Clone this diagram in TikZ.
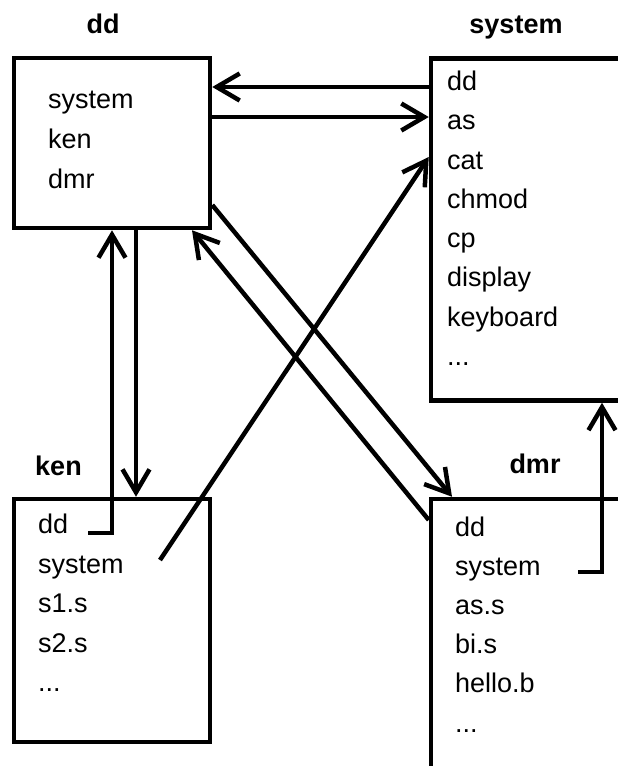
\documentclass[tikz,border=0pt]{standalone}
\usepackage{fontspec}
\setmainfont{Liberation Sans}
\usetikzlibrary{arrows.meta}
\begin{document}
\begin{tikzpicture}[x=1pt,y=-1pt,
  box/.style={draw, line width=4.5pt, rectangle, inner sep=0pt},
  item/.style={anchor=base west, inner sep=0pt, font=\fontsize{27}{30}\selectfont},
  title/.style={anchor=base, inner sep=0pt, font=\fontsize{27}{30}\selectfont\bfseries},
  conn/.style={line width=4.5pt, -{Straight Barb[length=23pt,width=27pt]}}]
\useasboundingbox (0,0) rectangle (618,766);
\clip (0,0) rectangle (618,766);
% boxes
\node[box, minimum width=196pt, minimum height=170pt] (dd) at (112,143) {};
\node[box, minimum width=229pt, minimum height=342pt] (sys) at (545.5,229.5) {};
\node[box, minimum width=196pt, minimum height=243pt] (ken) at (112,620.5) {};
\node[box, minimum width=229pt, minimum height=321pt] (dmr) at (545.5,659.5) {};
% titles
\node[title] (tdd) at (103,33) {dd};
\node[title] (tsys) at (516,33) {system};
\node[title] (tken) at (58.5,475) {ken};
\node[title] (tdmr) at (535,473) {dmr};
% dd items
\node[item] (dd1) at (48,108) {system};
\node[item] (dd2) at (48,148) {ken};
\node[item] (dd3) at (48,188) {dmr};
% system items
\node[item] (sys0) at (447,90.5) {dd};
\node[item] (sys1) at (447,129.75) {as};
\node[item] (sys2) at (447,169) {cat};
\node[item] (sys3) at (447,208.25) {chmod};
\node[item] (sys4) at (447,247.5) {cp};
\node[item] (sys5) at (447,286.75) {display};
\node[item] (sys6) at (447,326) {keyboard};
\node[item] (sys7) at (447,365.25) {...};
% ken items
\node[item] (ken0) at (38,533.5) {dd};
\node[item] (ken1) at (38,573) {system};
\node[item] (ken2) at (38,612.5) {s1.s};
\node[item] (ken3) at (38,652) {s2.s};
\node[item] (ken4) at (38,691.5) {...};
% dmr items
\node[item] (dmr0) at (455,536) {dd};
\node[item] (dmr1) at (455,575.2) {system};
\node[item] (dmr2) at (455,614.4) {as.s};
\node[item] (dmr3) at (455,653.6) {bi.s};
\node[item] (dmr4) at (455,692.8) {hello.b};
\node[item] (dmr5) at (455,732) {...};
% helper coordinates
\coordinate (r87) at (0,87);
\coordinate (r117) at (0,117);
\coordinate (r157) at (0,157);
\coordinate (r205) at (0,205);
\coordinate (r520) at (0,520);
\coordinate (c136) at (136,0);
\coordinate (c192) at (192,0);
\coordinate (c452) at (452,0);
\coordinate (c602) at (602,0);
\coordinate (kfree) at (160,560);
\coordinate (kdd) at (88,533);
\coordinate (dfree) at (578,572);
% connectors
\draw[conn] (sys.west |- r87) -- (dd.east |- r87);
\draw[conn] (dd.east |- r117) -- (sys.west |- r117);
\draw[conn] (kfree) -- (sys.west |- r157);
\draw[conn] (kdd) -| (dd.south);
\draw[conn] (dd.south -| c136) -- (ken.north -| c136);
\draw[conn] (dd.east |- r205) -- (dmr.north -| c452);
\draw[conn] (dmr.west |- r520) -- (dd.south -| c192);
\draw[conn] (dfree) -| (sys.south -| c602);
\end{tikzpicture}
\end{document}
